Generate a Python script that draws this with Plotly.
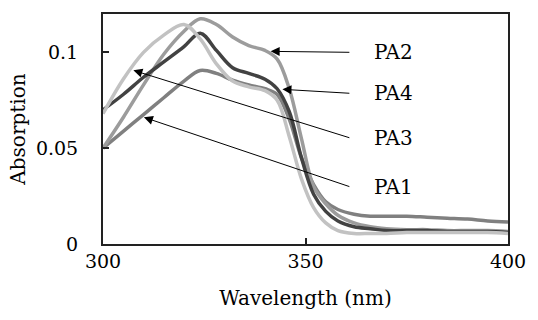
import plotly.graph_objects as go

wavelength = [300, 305, 310, 315, 320, 324, 328, 332, 336, 340, 343, 346, 349,
              352, 355, 358, 362, 366, 370, 375, 380, 385, 390, 395, 400]

pa1 = [0.050, 0.0588, 0.0675, 0.0763, 0.085, 0.0905, 0.089, 0.0855, 0.083, 0.081,
       0.078, 0.065, 0.045, 0.031, 0.022, 0.018, 0.0155, 0.0145, 0.0145, 0.0145,
       0.014, 0.0135, 0.013, 0.012, 0.0115]
pa2 = [0.050, 0.066, 0.083, 0.099, 0.111, 0.1175, 0.1145, 0.108, 0.1035, 0.101,
       0.0965, 0.081, 0.055, 0.030, 0.021, 0.015, 0.011, 0.009, 0.008, 0.0075,
       0.0075, 0.007, 0.007, 0.007, 0.0065]
pa3 = [0.068, 0.086, 0.100, 0.109, 0.1145, 0.107, 0.094, 0.085, 0.082, 0.080,
       0.075, 0.056, 0.034, 0.019, 0.011, 0.007, 0.0055, 0.0055, 0.0055, 0.006,
       0.006, 0.006, 0.006, 0.006, 0.0055]
pa4 = [0.070, 0.078, 0.087, 0.095, 0.103, 0.110, 0.101, 0.092, 0.089, 0.086,
       0.081, 0.069, 0.045, 0.026, 0.017, 0.012, 0.009, 0.008, 0.007, 0.007,
       0.007, 0.0065, 0.0065, 0.0065, 0.006]

names = ["PA1", "PA2", "PA4", "PA3"]
series = {"PA1": pa1, "PA2": pa2, "PA3": pa3, "PA4": pa4}
colors = {"PA1": "#808080", "PA2": "#9c9c9c", "PA3": "#c2c2c2", "PA4": "#424242"}

# label positions (x, y) and arrow heads (x, y) in data units
label_x = 366.3
label_y = {"PA2": 0.1000, "PA4": 0.0786, "PA3": 0.0552, "PA1": 0.0297}
tail_x = 361.2
head = {"PA2": (341.4, 0.1005), "PA4": (344.3, 0.0807),
        "PA3": (307.5, 0.0906), "PA1": (310.1, 0.0661)}

FONT = "DejaVu Serif"

fig = go.Figure()
for n in names:
    fig.add_trace(go.Scatter(x=wavelength, y=series[n], mode="lines", name=n,
                             line=dict(color=colors[n], width=3.5, shape="spline", smoothing=1.0),
                             showlegend=False))

for n in ["PA2", "PA4", "PA3", "PA1"]:
    hx, hy = head[n]
    fig.add_annotation(x=hx, y=hy, ax=tail_x, ay=label_y[n], axref="x", ayref="y",
                       xref="x", yref="y", text="", showarrow=True,
                       arrowhead=2, arrowsize=1.8, arrowwidth=1, arrowcolor="black",
                       standoff=0, startstandoff=0)
    fig.add_annotation(x=label_x, y=label_y[n], xref="x", yref="y", text=n,
                       showarrow=False, xanchor="left", yanchor="middle",
                       font=dict(family=FONT, size=20, color="black"))

axis_common = dict(showline=True, linecolor="#222222", linewidth=2, mirror=True,
                   ticks="inside", ticklen=6, tickwidth=1.5, tickcolor="#222222",
                   showgrid=False, zeroline=False,
                   tickfont=dict(family=FONT, size=19, color="black"))

fig.update_xaxes(range=[300, 400], tickvals=[300, 350, 400], ticktext=["300", "350", "400"],
                 ticklabelstandoff=-1,
                 title=dict(text="Wavelength (nm)", font=dict(family=FONT, size=20, color="black"),
                            standoff=20),
                 **axis_common)
fig.update_yaxes(range=[0, 0.12], tickvals=[0, 0.05, 0.1], ticktext=["0", "0.05", "0.1"],
                 ticklabelstandoff=19,
                 title=dict(text="Absorption", font=dict(family=FONT, size=20, color="black"),
                            standoff=5),
                 **axis_common)

fig.update_layout(width=538, height=320, margin=dict(l=103, r=20, t=14, b=76),
                  paper_bgcolor="white", plot_bgcolor="white",
                  font=dict(family=FONT))

fig.write_html("out.html")
